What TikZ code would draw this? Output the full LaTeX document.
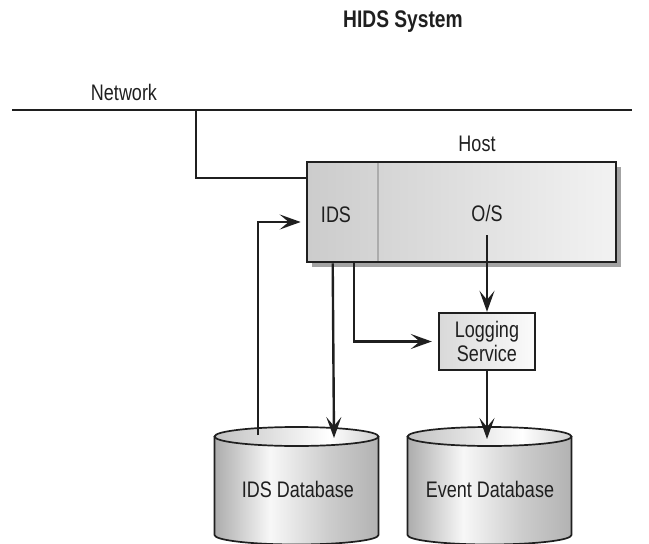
\documentclass[tikz,border=0pt]{standalone}
\usepackage{fontspec}
\setmainfont{Liberation Sans}[FakeStretch=0.80]
\usetikzlibrary{arrows.meta,calc}

\def\txtsize{\fontsize{22.5}{24}\selectfont}
\pgfdeclarehorizontalshading{drum}{100bp}{color(0bp)=(gray!65); color(25bp)=(gray!65); color(42bp)=(gray!6); color(60bp)=(gray!40); color(75bp)=(gray!60); color(100bp)=(gray!60)}
\pgfdeclarehorizontalshading{drumtop}{100bp}{color(0bp)=(gray!48); color(25bp)=(gray!48); color(60bp)=(white); color(75bp)=(gray!38); color(100bp)=(gray!38)}

\begin{document}
\begin{tikzpicture}[x=1pt, y=-1pt,
    every node/.style={inner sep=0pt, text=black!88, font=\txtsize},
    wire/.style={line width=2.4pt, draw=black!88},
    flow/.style={wire, -{Stealth[length=21pt, width=15pt, inset=9pt]}},
    hostbox/.style={draw=black!88, line width=2.6pt, minimum width=309pt, minimum height=100pt, left color=gray!40, right color=gray!10},
    logbox/.style={draw=black!88, line width=2.4pt, minimum width=96pt, minimum height=57pt, align=center, left color=gray!30, right color=gray!3},
    drumline/.style={line width=1.7pt, draw=black!88}]
      \useasboundingbox (0,0) rectangle (649,544);

      \node[anchor=base, font=\fontsize{24}{26}\selectfont\bfseries] (title) at (403,27) {HIDS System};
      \node[anchor=base] (netlbl) at (124,100) {Network};
      \coordinate (netleft) at (12,110);
      \coordinate (netright) at (632,110);
      \coordinate (tap) at (196,110);

      \fill[gray!72] (312,167) rectangle (620.5,267);
      \node[hostbox] (host) at (461.5,212) {};
      \draw[gray!65, line width=1.5pt] (378,163.3) -- (378,260.7);
      \node[anchor=base] (hostlbl) at (477,151) {Host};
      \node[anchor=base] (ids) at (336,222) {IDS};
      \node[anchor=base] (os) at (487,221) {O/S};

      \node[logbox] (logging) at (487,341.5) {Logging\\Service};

      \foreach \cx in {296.5, 489.5} {
        \shade[shading=drum] (\cx-82,436.5) rectangle (\cx+82,535);
        \shade[shading=drum] (\cx,535) ellipse (82 and 9.5);
        \draw[drumline] (\cx-82,436.5) -- (\cx-82,535) arc[start angle=180, end angle=0, x radius=82, y radius=9.5] -- (\cx+82,436.5);
        \shade[shading=drumtop] (\cx,436.5) ellipse (82 and 9.5);
        \draw[drumline] (\cx,436.5) ellipse (82 and 9.5);
      }
      \node[anchor=base] (idsdb) at (298,497) {IDS Database};
      \node[anchor=base] (evtdb) at (490,497) {Event Database};

      \coordinate (hostport) at ($(host.north west)+(0,17)$);
      \coordinate (feedfrom) at (258,435);
      \coordinate (feedto) at ($(host.west)+(-5,10)$);
      \coordinate (idsout) at ($(host.south west)+(27,0)$);
      \coordinate (idsdbtop) at (334,438);
      \coordinate (logout) at ($(host.south west)+(48,0)$);
      \coordinate (osout) at (487,235);
      \coordinate (evtdbtop) at (487,439);

      \draw[wire] (netleft) -- (netright);
      \draw[wire] (tap) |- (hostport);
      \draw[flow] (feedfrom) |- (feedto);
      \draw[flow] (idsout) -- (idsdbtop);
      \draw[flow, shorten >=6pt] (logout) |- (logging.west);
      \draw[flow] (osout) -- (logging.north);
      \draw[flow] (logging.south) -- (evtdbtop);
    \end{tikzpicture}
\end{document}
